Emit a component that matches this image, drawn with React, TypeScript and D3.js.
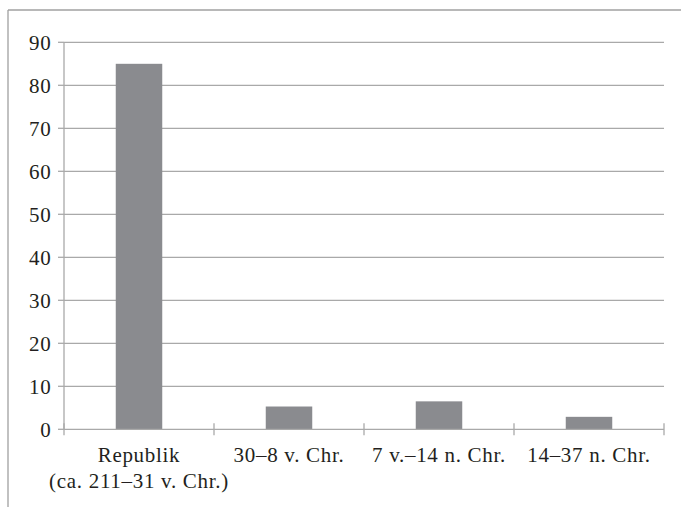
import React from "react";
import * as d3 from "d3";

// Anteil (in %) je Zeitabschnitt
const categories: string[][] = [
  ["Republik", "(ca. 211–31 v. Chr.)"],
  ["30–8 v. Chr."],
  ["7 v.–14 n. Chr."],
  ["14–37 n. Chr."],
];
const values: number[] = [85, 5.3, 6.5, 2.9];
const yTicks: number[] = [0, 10, 20, 30, 40, 50, 60, 70, 80, 90];

const W = 681;
const H = 507;
const plot = { left: 64, right: 664, top: 42.3, bottom: 429.3 };
const textStyle: React.CSSProperties = {
  fontFamily: "Liberation Serif, Times New Roman, serif",
  fontSize: 21,
  letterSpacing: 0.7,
};
const textColor = "#231f20";
const lineColor = "#a9a9a9";
const barColor = "#8a8b8f";

export default function App() {
  const keys = categories.map((c) => c.join(" "));
  const x = d3
    .scaleBand<string>()
    .domain(keys)
    .range([plot.left, plot.right])
    .paddingInner(0.69)
    .paddingOuter(0.345);
  const step = x.step();
  const y = d3.scaleLinear().domain([0, 90]).range([plot.bottom, plot.top]);

  // category boundaries for the cross ticks on the x axis
  const bounds = d3.range(keys.length + 1).map((i) => plot.left + i * step);

  return (
    <svg
      width={W}
      height={H}
      style={{ position: "absolute", left: 0, top: 0, background: "#fff" }}
    >
      {/* outer frame */}
      <line x1={8} x2={W} y1={10} y2={10} stroke="#a0a0a0" strokeWidth={1.3} />
      <line x1={8} x2={8} y1={10} y2={H} stroke="#a0a0a0" strokeWidth={1.3} />

      {/* grid lines and y ticks */}
      {yTicks.map((t) => (
        <g key={t}>
          {t > 0 && (
            <line
              x1={plot.left}
              x2={plot.right}
              y1={y(t)}
              y2={y(t)}
              stroke={lineColor}
              strokeWidth={1.3}
            />
          )}
          <line
            x1={plot.left - 6}
            x2={plot.left}
            y1={y(t)}
            y2={y(t)}
            stroke={lineColor}
            strokeWidth={1.3}
          />
          <text
            x={51.5}
            y={y(t)}
            dy="0.35em"
            textAnchor="end"
            style={textStyle}
            fill={textColor}
          >
            {t}
          </text>
        </g>
      ))}

      {/* bars */}
      {values.map((v, i) => (
        <rect
          key={keys[i]}
          x={x(keys[i])}
          y={y(v)}
          width={x.bandwidth()}
          height={y(0) - y(v)}
          fill={barColor}
        />
      ))}

      {/* axes */}
      <line
        x1={plot.left}
        x2={plot.left}
        y1={plot.top}
        y2={plot.bottom}
        stroke={lineColor}
        strokeWidth={1.3}
      />
      <line
        x1={plot.left}
        x2={plot.right}
        y1={plot.bottom}
        y2={plot.bottom}
        stroke={lineColor}
        strokeWidth={1.3}
      />
      {bounds.map((bx, i) => (
        <line
          key={i}
          x1={bx}
          x2={bx}
          y1={plot.bottom - 6}
          y2={plot.bottom + 6}
          stroke={lineColor}
          strokeWidth={1.3}
        />
      ))}

      {/* category labels */}
      {categories.map((lines, i) => {
        const cx = (x(keys[i]) as number) + x.bandwidth() / 2;
        return (
          <text key={keys[i]} textAnchor="middle" style={textStyle} fill={textColor}>
            {lines.map((l, j) => (
              <tspan key={j} x={cx} y={461.5 + j * 26.5}>
                {l}
              </tspan>
            ))}
          </text>
        );
      })}
    </svg>
  );
}
